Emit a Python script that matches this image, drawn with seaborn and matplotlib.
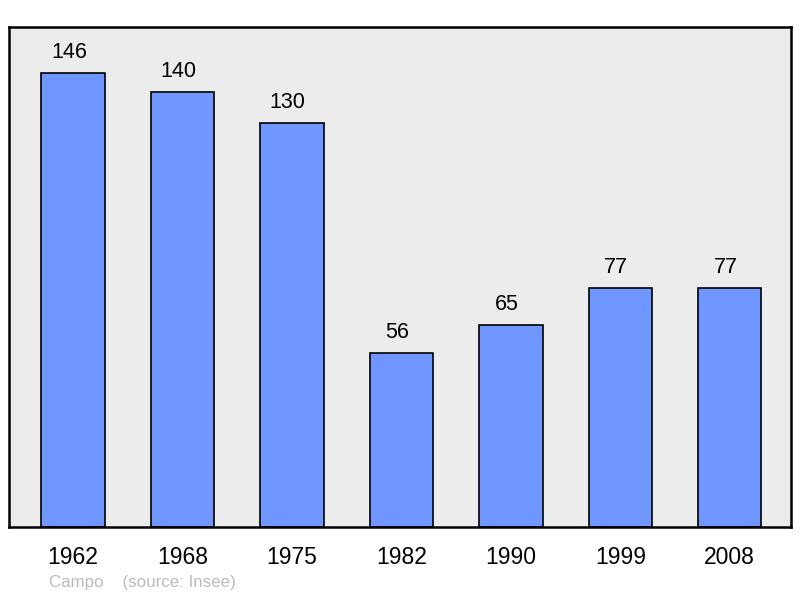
import matplotlib
matplotlib.use("Agg")
import matplotlib.pyplot as plt
import seaborn as sns
import pandas as pd

years = ["1962", "1968", "1975", "1982", "1990", "1999", "2008"]
population = [146, 140, 130, 56, 65, 77, 77]

df = pd.DataFrame({"year": years, "population": population})

sns.set_theme(style="white")
plt.rcParams["font.family"] = ["Liberation Sans", "DejaVu Sans"]

fig = plt.figure(figsize=(8, 5.98), dpi=100)
ax = fig.add_axes([9 / 800, 71 / 598, 782 / 800, 500 / 598])
ax.set_facecolor("#ececec")

sns.barplot(data=df, x="year", y="population", color="#7096ff",
            saturation=1, width=0.58, edgecolor="black", linewidth=1.2, ax=ax)

# value labels sit a little left of the bar centre in the original
for bar, value in zip(ax.patches, population):
    ax.annotate(str(value), (bar.get_x() + bar.get_width() / 2, bar.get_height()),
                xytext=(-3, 7), textcoords="offset points",
                ha="center", va="bottom", fontsize=15.5, color="black")

ax.set_xlim(-0.585, 6.56)
ax.set_ylim(0, 160.8)
ax.set_xlabel("")
ax.set_ylabel("")
ax.set_yticks([])
ax.tick_params(axis="x", length=0, pad=13.5, labelsize=16.5, labelcolor="black")
for side in ax.spines.values():
    side.set_visible(True)
    side.set_color("black")
    side.set_linewidth(1.8)

fig.text(49 / 800, 1 - 583 / 598, "Campo    (source: Insee)", fontsize=12.2,
         color="#bbbbbb", va="center", ha="left")

fig.savefig("out.png", dpi=100)
